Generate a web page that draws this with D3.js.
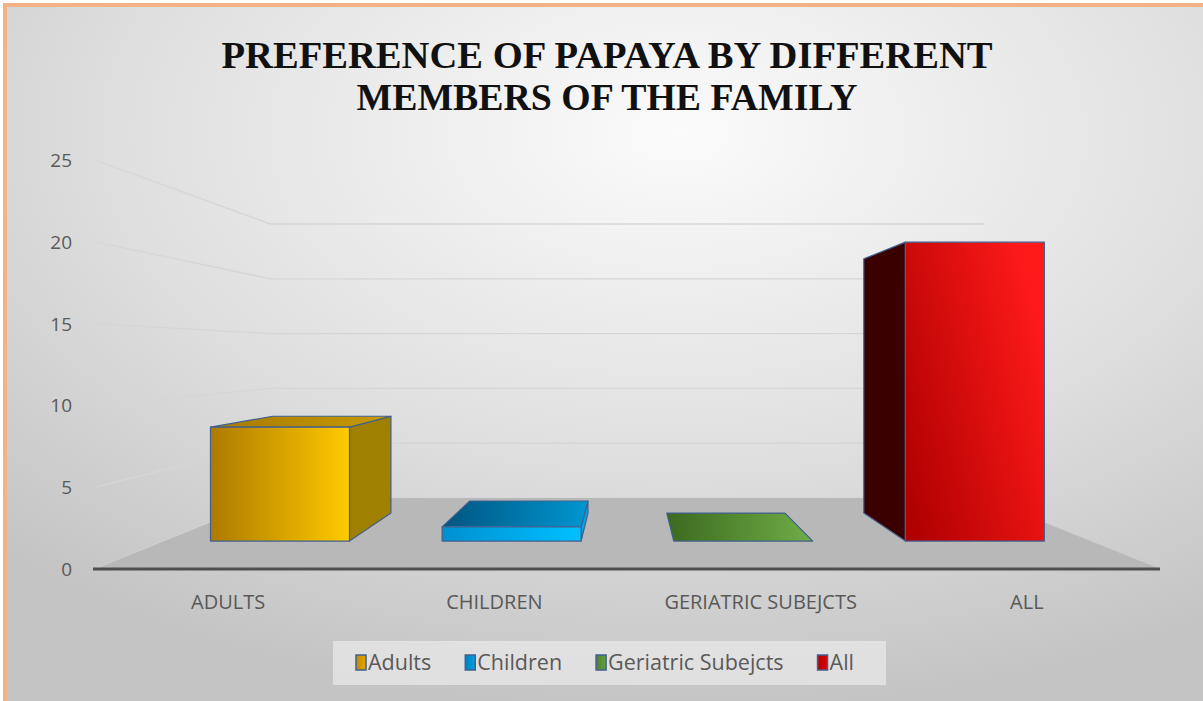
<!DOCTYPE html>
<html>
<head>
<meta charset="utf-8">
<script src="https://cdn.jsdelivr.net/npm/d3@7"></script>
<style>
  html, body { margin: 0; padding: 0; background: #fff; }
  svg { display: block; }
</style>
</head>
<body>
<div id="chart"></div>
<script>
const titleLines = ["PREFERENCE OF PAPAYA BY DIFFERENT", "MEMBERS OF THE FAMILY"];
const categories = ["ADULTS", "CHILDREN", "GERIATRIC SUBEJCTS", "ALL"];
const seriesNames = ["Adults", "Children", "Geriatric Subejcts", "All"];
const values = [8, 1, 0, 21];
const yTicks = [0, 5, 10, 15, 20, 25];

// face colours per series: front gradient, top gradient, side
const palette = [
  { front: ["#ad7a00", "#ffca00"], top: ["#a67a00", "#c89a00"], side: "#a08000", key: "#e8a800" },
  { front: ["#0090d0", "#00c0ff"], top: ["#005580", "#0096d0"], side: "#00a4e4", key: "#00a0e8" },
  { front: ["#3b6a1f", "#70ad47"], top: ["#3b6a1f", "#70ad47"], side: "#4f8a2c", key: "#62a03a" },
  { front: ["#b00000", "#ff1a1a"], top: ["#b00000", "#ff1a1a"], side: "#3a0000", key: "#e00000" }
];

const W = 1203, H = 701;
const vp = { x: 627, y: 354 };       // vanishing point of the 3d view
const depth = { floorFront: 1, barFront: 0.87, barBack: 0.74, floorBack: 0.67 };
const edge = "#41608f";

const x = d3.scaleBand().domain(categories).range([95, 1160]).paddingInner(0.4).paddingOuter(0.2);
const y = d3.scaleLinear().domain([0, 25]).range([569, 160]);

function proj(px, py, s) {
  return [vp.x + s * (px - vp.x), vp.y + s * (py - vp.y)];
}

const svg = d3.select("#chart").append("svg")
  .attr("width", W).attr("height", H);

const defs = svg.append("defs");

const bg = defs.append("radialGradient").attr("id", "bg")
  .attr("cx", "0.55").attr("cy", "0.18").attr("r", "0.8");
bg.append("stop").attr("offset", "0").attr("stop-color", "#fbfbfb");
bg.append("stop").attr("offset", "0.55").attr("stop-color", "#e0e0e0");
bg.append("stop").attr("offset", "1").attr("stop-color", "#c4c4c4");

function linGrad(id, c, x1 = 0, y1 = 0, x2 = 1, y2 = 0) {
  const g = defs.append("linearGradient").attr("id", id)
    .attr("x1", x1).attr("y1", y1).attr("x2", x2).attr("y2", y2);
  g.append("stop").attr("offset", "0").attr("stop-color", c[0]);
  g.append("stop").attr("offset", "1").attr("stop-color", c[1]);
}
palette.forEach((p, i) => {
  if (i === 3) linGrad("front" + i, p.front, 0, 0.85, 1, 0.3);
  else linGrad("front" + i, p.front);
  linGrad("top" + i, p.top);
  linGrad("key" + i, [d3.color(p.key).darker(0.6), p.key], 0, 0, 1, 0);
});

// background + border
svg.append("rect")
  .attr("x", 5).attr("y", 5).attr("width", W + 20).attr("height", H + 20)
  .attr("fill", "url(#bg)")
  .attr("stroke", "#f4b183").attr("stroke-width", 4);

// walls
const walls = svg.append("g");
const [x0, x1] = x.range();
yTicks.forEach((t) => {
  const a = proj(x0, y(t), depth.floorFront);
  const b = proj(x0, y(t), depth.floorBack);
  const c = proj(x1, y(t), depth.floorBack);
  walls.append("polyline")
    .attr("points", [a, b, c].map((p) => p.join(",")).join(" "))
    .attr("fill", "none")
    .attr("stroke", "#d6d6d6")
    .attr("stroke-width", 1.3);
});

// floor
const floorPts = [
  proj(x0, y(0), depth.floorFront), proj(x1, y(0), depth.floorFront),
  proj(x1, y(0), depth.floorBack), proj(x0, y(0), depth.floorBack)
];
svg.append("polygon")
  .attr("points", floorPts.map((p) => p.join(",")).join(" "))
  .attr("fill", "#b8b8b8");

svg.append("line")
  .attr("x1", x0 - 2).attr("x2", x1)
  .attr("y1", y(0)).attr("y2", y(0))
  .attr("stroke", "#4f4f4f").attr("stroke-width", 3);

// bars
const bars = svg.append("g");
categories.forEach((cat, i) => {
  const v = values[i];
  const bx0 = x(cat), bx1 = x(cat) + x.bandwidth();
  const yb = y(0), yt = y(v);
  const f = depth.barFront, k = depth.barBack;
  const ftl = proj(bx0, yt, f), ftr = proj(bx1, yt, f), fbr = proj(bx1, yb, f), fbl = proj(bx0, yb, f);
  const ktl = proj(bx0, yt, k), ktr = proj(bx1, yt, k), kbr = proj(bx1, yb, k), kbl = proj(bx0, yb, k);
  const g = bars.append("g").attr("stroke", edge).attr("stroke-width", 1.2).attr("stroke-linejoin", "round");
  const face = (pts, fill) => g.append("polygon")
    .attr("points", pts.map((p) => p.join(",")).join(" "))
    .attr("fill", fill);

  if (v > 0) {
    if (bx1 < vp.x) face([ftr, ktr, kbr, fbr], palette[i].side);
    if (bx0 > vp.x) face([ftl, ktl, kbl, fbl], palette[i].side);
  }
  if (yt > vp.y) face([ftl, ftr, ktr, ktl], `url(#top${i})`);
  if (v > 0) face([ftl, ftr, fbr, fbl], `url(#front${i})`);
});

// value axis labels
svg.append("g").selectAll("text")
  .data(yTicks).enter().append("text")
  .attr("x", 72).attr("y", (d) => y(d) + 7)
  .attr("text-anchor", "end")
  .attr("font-family", "Open Sans")
  .attr("font-size", 19)
  .attr("fill", "#595959")
  .text((d) => d);

// category labels
svg.append("g").selectAll("text")
  .data(categories).enter().append("text")
  .attr("x", (d) => x(d) + x.bandwidth() / 2)
  .attr("y", 609)
  .attr("text-anchor", "middle")
  .attr("font-family", "Open Sans")
  .attr("font-size", 20)
  .attr("fill", "#595959")
  .text((d) => d);

// title
svg.append("g").selectAll("text")
  .data(titleLines).enter().append("text")
  .attr("x", 607)
  .attr("y", (d, i) => 68 + i * 42)
  .attr("text-anchor", "middle")
  .attr("font-family", "Liberation Serif")
  .attr("font-weight", "bold")
  .attr("font-size", 37)
  .attr("fill", "#111")
  .attr("textLength", (d, i) => i === 0 ? 771 : 501)
  .attr("lengthAdjust", "spacingAndGlyphs")
  .text((d) => d);

// legend
const legend = svg.append("g");
legend.append("rect")
  .attr("x", 333).attr("y", 641).attr("width", 553).attr("height", 44)
  .attr("fill", "#e6e6e6").attr("opacity", 0.8);
let lx = 356;
seriesNames.forEach((name, i) => {
  legend.append("rect")
    .attr("x", lx).attr("y", 655).attr("width", 10).attr("height", 15)
    .attr("fill", `url(#key${i})`)
    .attr("stroke", edge).attr("stroke-width", 1.5);
  const t = legend.append("text")
    .attr("x", lx + 12).attr("y", 670)
    .attr("font-family", "Open Sans")
    .attr("font-size", 21.5)
    .attr("fill", "#595959")
    .text(name);
  lx += 12 + t.node().getComputedTextLength() + 34;
});
</script>
</body>
</html>
